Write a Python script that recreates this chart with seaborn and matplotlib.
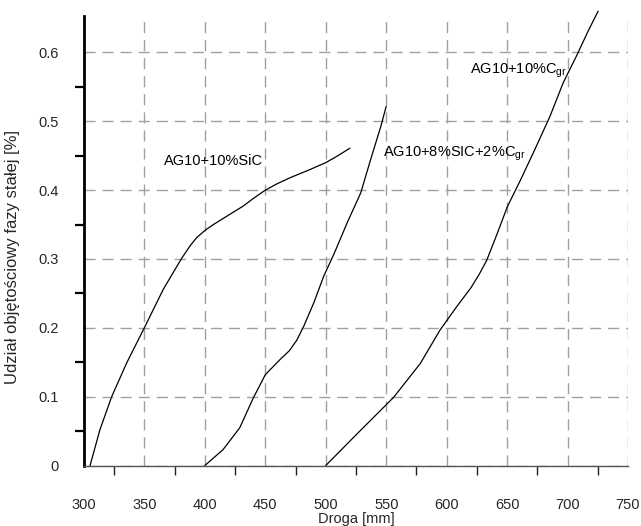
import matplotlib
matplotlib.use("Agg")
import matplotlib.pyplot as plt
import numpy as np
import pandas as pd
import seaborn as sns

# Solid-phase volume fraction vs. flow distance for three AG10 composites
sic_x = [305, 313.2, 322.9, 335.3, 349.9, 365.6, 380.8, 387.7, 393.2, 400.4, 407, 418,
         431.8, 440.1, 450, 459.4, 470.4, 487, 500, 509, 520]
sic_y = [0.0, 0.052, 0.100, 0.149, 0.200, 0.256, 0.301, 0.319, 0.331, 0.342, 0.350, 0.362,
         0.377, 0.388, 0.400, 0.409, 0.418, 0.430, 0.440, 0.449, 0.461]

hyb_x = [400, 415, 428.9, 440, 450, 462.2, 470, 476, 481.7, 490, 498.3, 506.7, 517.8,
         528.9, 537.2, 545.6, 550]
hyb_y = [0.0, 0.023, 0.055, 0.098, 0.132, 0.154, 0.167, 0.182, 0.202, 0.236, 0.275, 0.307,
         0.353, 0.396, 0.445, 0.493, 0.522]

gr_x = [500, 525.9, 556.1, 578.1, 594.6, 608.4, 620, 627, 633.1, 641.4, 650.2, 660.6, 671.6,
        685.4, 696.4, 707.4, 717, 725.3]
gr_y = [0.0, 0.046, 0.099, 0.148, 0.197, 0.231, 0.258, 0.278, 0.298, 0.335, 0.376, 0.413,
        0.454, 0.507, 0.556, 0.595, 0.631, 0.660]

series_names = ["AG10+10%SiC", "AG10+8%SIC+2%Cgr", "AG10+10%Cgr"]
label_texts = ["AG10+10%SiC",
               r"AG10+8%SIC+2%C$_{\mathregular{gr}}$",
               r"AG10+10%C$_{\mathregular{gr}}$"]
label_x = [366, 547, 619]
label_y = [0.442, 0.453, 0.574]

x_ticks = [300, 350, 400, 450, 500, 550, 600, 650, 700, 750]
y_ticks = [0, 0.1, 0.2, 0.3, 0.4, 0.5, 0.6]
y_tick_labels = ["0", "0.1", "0.2", "0.3", "0.4", "0.5", "0.6"]

df = pd.concat([
    pd.DataFrame({"droga": sic_x, "udzial": sic_y, "seria": series_names[0]}),
    pd.DataFrame({"droga": hyb_x, "udzial": hyb_y, "seria": series_names[1]}),
    pd.DataFrame({"droga": gr_x, "udzial": gr_y, "seria": series_names[2]}),
], ignore_index=True)

sns.set_style("white")
plt.rcParams["font.family"] = ["Liberation Sans", "DejaVu Sans"]
plt.rcParams["mathtext.default"] = "regular"

fig = plt.figure(figsize=(6.41, 5.26), dpi=100)
ax = fig.add_axes([84 / 641, 1 - 465.5 / 526, 544 / 641, 449.5 / 526])

sns.lineplot(data=df, x="droga", y="udzial", hue="seria", units="seria",
             estimator=None, sort=False, palette=["black"] * 3,
             linewidth=0.9, legend=False, ax=ax)
for ln in ax.lines:
    ln.set_clip_on(False)

ax.set_xlim(300, 750)
ax.set_ylim(0, 0.653)

ax.set_xticks(x_ticks)
ax.set_xticks([325, 375, 425, 475, 525, 575, 625, 675, 725], minor=True)
ax.set_yticks(y_ticks)
ax.set_yticklabels(y_tick_labels)
ax.set_yticks(np.arange(0.05, 0.65, 0.1), minor=True)

ax.grid(True, which="major", color="#a0a0a0", linestyle=(0, (8, 5)), linewidth=1.0)
ax.set_axisbelow(True)

for side in ("top", "right"):
    ax.spines[side].set_visible(False)
ax.spines["left"].set_color("black")
ax.spines["left"].set_linewidth(2.0)
ax.spines["bottom"].set_color("#555555")
ax.spines["bottom"].set_linewidth(1.0)

ax.tick_params(axis="y", which="major", direction="out", length=12.5, width=1.6,
               color="black", labelsize=10.5, pad=6)
ax.tick_params(axis="y", which="minor", direction="out", length=6.5, width=1.6,
               color="black", left=True)
ax.tick_params(axis="x", which="major", direction="out", length=13, width=1.0,
               color="#222222", labelsize=10.5, pad=10.5)
ax.tick_params(axis="x", which="minor", direction="out", length=6.5, width=1.0,
               color="#222222", bottom=True)

ax.set_xlabel("Droga [mm]", fontsize=10.5, labelpad=0)
ax.set_ylabel("Udział objętościowy fazy stałej [%]", fontsize=12)
ax.yaxis.set_label_coords(-0.118, 0.464)

for txt, lx, ly in zip(label_texts, label_x, label_y):
    ax.text(lx, ly, txt, fontsize=10.5, ha="left", va="center", color="black")

fig.savefig("out.png", dpi=100)
